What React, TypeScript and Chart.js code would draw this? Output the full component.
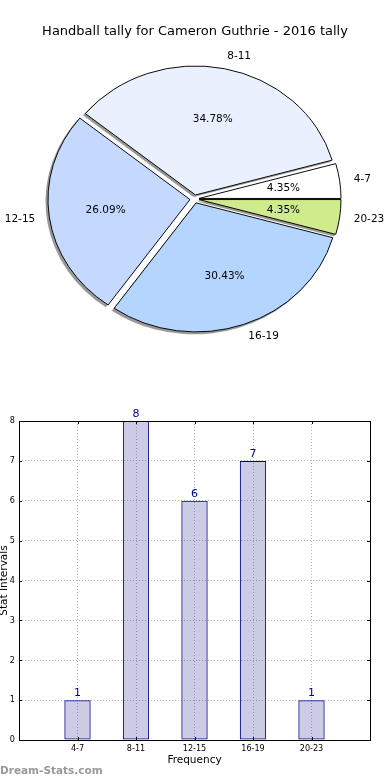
import React, { useEffect, useRef } from 'react';
import { Chart, registerables } from 'chart.js';

Chart.register(...registerables);

// ---------- data ----------
const TITLE = 'Handball tally for Cameron Guthrie - 2016 tally';
const CATEGORIES = ['4-7', '8-11', '12-15', '16-19', '20-23'];
const COUNTS = [1, 8, 6, 7, 1];
const SLICE_COLORS = ['#FFFFFF', '#EAF1FE', '#C5D9FE', '#B4D5FE', '#CFEB8B'];
const Y_TICKS = [0, 1, 2, 3, 4, 5, 6, 7, 8];
const X_TITLE = 'Frequency';
const Y_TITLE = 'Stat Intervals';
const WATERMARK = 'Dream-Stats.com';

// ---------- style ----------
const FONT = '"DejaVu Sans", sans-serif';
const SMALL_FONT = '"DejaVu Sans Condensed", "DejaVu Sans", sans-serif';
const EXPLODE = 0.032; // fraction of radius
const PIE_RADIUS = 142;
const Y_SQUASH = 129 / 142; // matplotlib non-equal axes -> elliptical pie
const PCT_DIST = 0.6;
const LABEL_DIST = 1.1;

const piePlugin = {
  id: 'mplPie',
  beforeDatasetDraw(chart: any, args: any) {
    const ctx: CanvasRenderingContext2D = chart.ctx;
    const arcs = args.meta.data;
    if (!arcs.length) return false;
    const cx = arcs[0].x;
    const cy = arcs[0].y;
    const toEllipse = () => {
      ctx.translate(cx, cy);
      ctx.scale(1, Y_SQUASH);
      ctx.translate(-cx, -cy);
    };
    // shadows first (beneath all wedges)
    arcs.forEach((arc: any) => {
      const { x, y, startAngle, endAngle, outerRadius } = arc.getProps(['x', 'y', 'startAngle', 'endAngle', 'outerRadius']);
      const mid = (startAngle + endAngle) / 2;
      const d = EXPLODE * outerRadius;
      ctx.save();
      ctx.translate(-2, 2);
      toEllipse();
      ctx.translate(Math.cos(mid) * d, Math.sin(mid) * d);
      ctx.beginPath();
      ctx.moveTo(x, y);
      ctx.arc(x, y, outerRadius + 0.5, startAngle, endAngle);
      ctx.closePath();
      ctx.fillStyle = 'rgba(0,0,0,0.4)';
      ctx.fill();
      ctx.restore();
    });
    arcs.forEach((arc: any) => {
      const { startAngle, endAngle, outerRadius } = arc.getProps(['startAngle', 'endAngle', 'outerRadius']);
      const mid = (startAngle + endAngle) / 2;
      const d = EXPLODE * outerRadius;
      ctx.save();
      toEllipse();
      ctx.translate(Math.cos(mid) * d, Math.sin(mid) * d);
      arc.draw(ctx);
      ctx.restore();
    });
    return false;
  },
  afterDraw(chart: any) {
    const ctx: CanvasRenderingContext2D = chart.ctx;
    const meta = chart.getDatasetMeta(0);
    const data: number[] = chart.data.datasets[0].data;
    const labels: string[] = chart.data.labels;
    const total = data.reduce((a, b) => a + b, 0);
    ctx.save();
    ctx.fillStyle = '#000';
    // title
    ctx.font = `13px ${FONT}`;
    ctx.textAlign = 'center';
    ctx.textBaseline = 'middle';
    ctx.fillText(TITLE, chart.width / 2, 31.5);
    meta.data.forEach((arc: any, i: number) => {
      const { x, y, startAngle, endAngle, outerRadius } = arc.getProps(['x', 'y', 'startAngle', 'endAngle', 'outerRadius']);
      const mid = (startAngle + endAngle) / 2;
      const c = Math.cos(mid);
      const s = Math.sin(mid);
      const d = EXPLODE * outerRadius;
      const pos = (k: number) => [x + c * (d + outerRadius * k), y + s * (d + outerRadius * k) * Y_SQUASH];
      ctx.font = `10.5px ${FONT}`;
      ctx.textBaseline = 'middle';
      const [px, py] = pos(PCT_DIST);
      ctx.textAlign = 'center';
      ctx.fillText(((data[i] / total) * 100).toFixed(2) + '%', px, py);
      const [lx, ly] = pos(LABEL_DIST);
      ctx.textAlign = c >= 0 ? 'left' : 'right';
      ctx.fillText(labels[i], lx, ly);
    });
    ctx.restore();
  },
};

const barPlugin = {
  id: 'mplBar',
  afterDatasetsDraw(chart: any) {
    const ctx: CanvasRenderingContext2D = chart.ctx;
    const { left, right, top, bottom } = chart.chartArea;
    const xs = chart.scales.x;
    const ys = chart.scales.y;
    ctx.save();
    // inward tick marks
    ctx.strokeStyle = '#000';
    ctx.lineWidth = 1;
    ctx.beginPath();
    Y_TICKS.forEach((t) => {
      const py = Math.round(ys.getPixelForValue(t)) + 0.5;
      ctx.moveTo(left, py);
      ctx.lineTo(left + 3, py);
      ctx.moveTo(right, py);
      ctx.lineTo(right - 3, py);
    });
    CATEGORIES.forEach((_, i) => {
      const px = Math.round(xs.getPixelForValue(i + 1)) + 0.5;
      ctx.moveTo(px, bottom);
      ctx.lineTo(px, bottom - 3);
      ctx.moveTo(px, top);
      ctx.lineTo(px, top + 3);
    });
    ctx.stroke();
    // frame
    ctx.strokeRect(Math.round(left) + 0.5, Math.round(top) + 0.5, Math.round(right - left), Math.round(bottom - top));
    // value labels
    const meta = chart.getDatasetMeta(0);
    ctx.fillStyle = '#00008B';
    ctx.font = `11px ${FONT}`;
    ctx.textAlign = 'center';
    ctx.textBaseline = 'alphabetic';
    meta.data.forEach((bar: any, i: number) => {
      ctx.fillText(String(COUNTS[i]), bar.x, bar.y - 4);
    });
    // axis titles
    ctx.fillStyle = '#000';
    ctx.font = `10.5px ${FONT}`;
    ctx.textBaseline = 'middle';
    ctx.fillText(X_TITLE, (left + right) / 2, 370);
    ctx.save();
    ctx.translate(7, (top + bottom) / 2);
    ctx.rotate(-Math.PI / 2);
    ctx.textBaseline = 'alphabetic';
    ctx.fillText(Y_TITLE, 0, 0);
    ctx.restore();
    // watermark
    ctx.fillStyle = '#999999';
    ctx.font = `bold 10.5px ${FONT}`;
    ctx.textAlign = 'left';
    ctx.textBaseline = 'middle';
    ctx.fillText(WATERMARK, 0, 381);
    ctx.restore();
  },
};

export default function App() {
  const pieRef = useRef<HTMLCanvasElement>(null);
  const barRef = useRef<HTMLCanvasElement>(null);

  useEffect(() => {
    const pie = new Chart(pieRef.current as HTMLCanvasElement, {
      type: 'pie',
      data: {
        labels: [...CATEGORIES].reverse(),
        datasets: [
          {
            data: [...COUNTS].reverse(),
            backgroundColor: [...SLICE_COLORS].reverse(),
            borderColor: '#000',
            borderWidth: 1,
          },
        ],
      },
      options: {
        responsive: false,
        animation: false,
        events: [],
        rotation: 90,
        radius: PIE_RADIUS,
        layout: { padding: { left: 0, right: 1, top: 8, bottom: 0 } },
        plugins: { legend: { display: false }, tooltip: { enabled: false }, title: { display: false } },
      } as any,
      plugins: [piePlugin as any],
    });

    const gridOpts = { color: '#b4b4b4', lineWidth: 1, drawTicks: false, offset: false };
    const bar = new Chart(barRef.current as HTMLCanvasElement, {
      type: 'bar',
      data: {
        datasets: [
          {
            data: COUNTS.map((v, i) => ({ x: i + 1, y: v })),
            backgroundColor: 'rgba(0,0,128,0.2)',
            borderColor: '#000080',
            borderWidth: 1,
            borderSkipped: false,
            barPercentage: 0.45,
            categoryPercentage: 1,
          },
        ],
      },
      options: {
        responsive: false,
        animation: false,
        events: [],
        layout: { padding: { left: 0, right: 20, top: 31, bottom: 0 } },
        plugins: { legend: { display: false }, tooltip: { enabled: false } },
        scales: {
          x: {
            type: 'linear',
            min: 0,
            max: 6,
            offset: false,
            afterFit: (s: any) => {
              s.height = 40;
            },
            grid: gridOpts,
            border: { display: false, dash: [1, 2] },
            ticks: {
              stepSize: 1,
              autoSkip: false,
              maxRotation: 0,
              padding: 3,
              color: '#000',
              font: { family: SMALL_FONT, size: 9 },
              callback: (v: any) => CATEGORIES[Number(v) - 1] ?? '',
            },
          },
          y: {
            type: 'linear',
            min: Y_TICKS[0],
            max: Y_TICKS[Y_TICKS.length - 1],
            afterFit: (s: any) => {
              s.width = 19;
            },
            grid: gridOpts,
            border: { display: false, dash: [1, 2] },
            ticks: {
              stepSize: 1,
              padding: 4,
              color: '#000',
              font: { family: SMALL_FONT, size: 9 },
            },
          },
        },
      } as any,
      plugins: [barPlugin as any],
    });

    return () => {
      pie.destroy();
      bar.destroy();
    };
  }, []);

  return (
    <div style={{ position: 'absolute', left: 0, top: 0, width: 390, height: 780, background: '#fff' }}>
      <canvas ref={pieRef} width={390} height={390} style={{ position: 'absolute', left: 0, top: 0, display: 'block' }} />
      <canvas ref={barRef} width={390} height={390} style={{ position: 'absolute', left: 0, top: 390, display: 'block' }} />
    </div>
  );
}
